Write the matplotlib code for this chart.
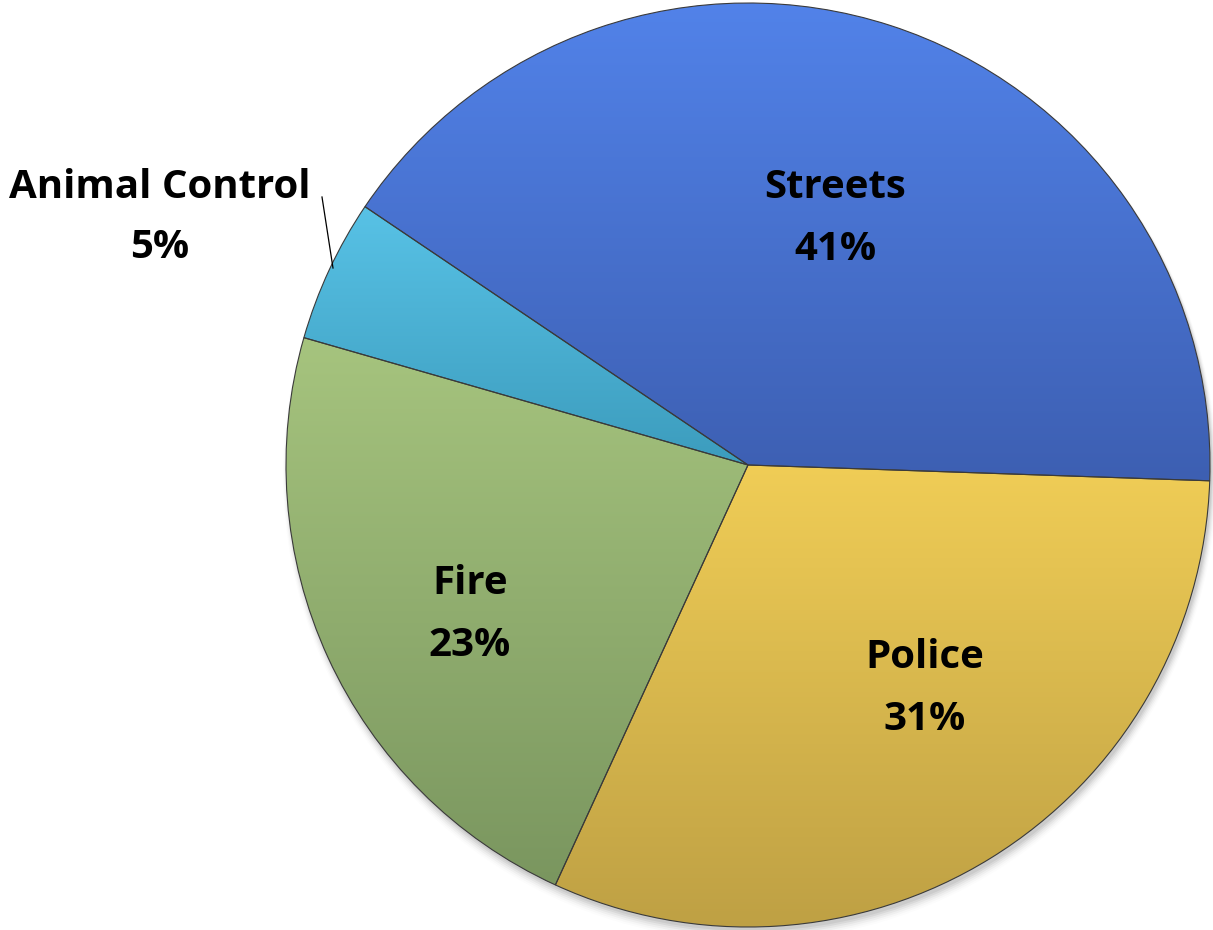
import numpy as np
import matplotlib
matplotlib.use("Agg")
import matplotlib.pyplot as plt
from matplotlib.colors import LinearSegmentedColormap

categories = ["Streets", "Police", "Fire", "Animal Control"]
values = [41.1, 31.3, 22.6, 5.0]
pct_labels = ["41%", "31%", "23%", "5%"]
top_colors = ["#5283ea", "#f0cd56", "#a6c47e", "#58c2e6"]
bottom_colors = ["#3d5fb2", "#bea044", "#7a965f", "#3c9cbd"]

W, H = 1213, 930
fig = plt.figure(figsize=(W / 100, H / 100), dpi=100)
ax = fig.add_axes([0, 0, 1, 1])

cx, cy, r = 748, 465, 462

# soft shadow
for i, a in enumerate(np.linspace(0.06, 0.01, 6)):
    sh = plt.Circle((cx + 2, cy - 4 - i), r + i, color="black", alpha=a, zorder=0, lw=0)
    ax.add_patch(sh)

wedges, _ = ax.pie(values, startangle=146, counterclock=False, center=(cx, cy),
                   radius=r, frame=True,
                   wedgeprops=dict(edgecolor="#3a3a3a", linewidth=0.8, zorder=2))
ax.set_xlim(0, W)
ax.set_ylim(0, H)
ax.set_aspect("equal")
ax.axis("off")

for w, ct, cb in zip(wedges, top_colors, bottom_colors):
    w.set_facecolor("none")
    verts = w.get_patch_transform().transform(w.get_path().vertices)
    x0, x1 = verts[:, 0].min(), verts[:, 0].max()
    y0, y1 = verts[:, 1].min(), verts[:, 1].max()
    cmap = LinearSegmentedColormap.from_list("g", [cb, ct])
    grad = np.linspace(0, 1, 256).reshape(-1, 1)
    im = ax.imshow(grad, cmap=cmap, extent=(x0, x1, y0, y1), origin="lower",
                   aspect="auto", zorder=1, interpolation="bilinear")
    im.set_clip_path(w)

fp = dict(fontfamily="Open Sans", fontweight="bold", fontsize=29, color="black",
          ha="center", va="center")

def T(x, y, s):
    ax.text(x, H - y, s, zorder=5, **fp)

T(835, 188, "Streets"); T(835, 250, "41%")
T(925, 658, "Police"); T(925, 720, "31%")
T(470, 583, "Fire"); T(470, 645, "23%")
T(160, 188, "Animal Control"); T(160, 248, "5%")

ax.plot([322, 333], [H - 197, H - 268], color="black", lw=0.9, zorder=5)

fig.savefig("out.png", dpi=100)
